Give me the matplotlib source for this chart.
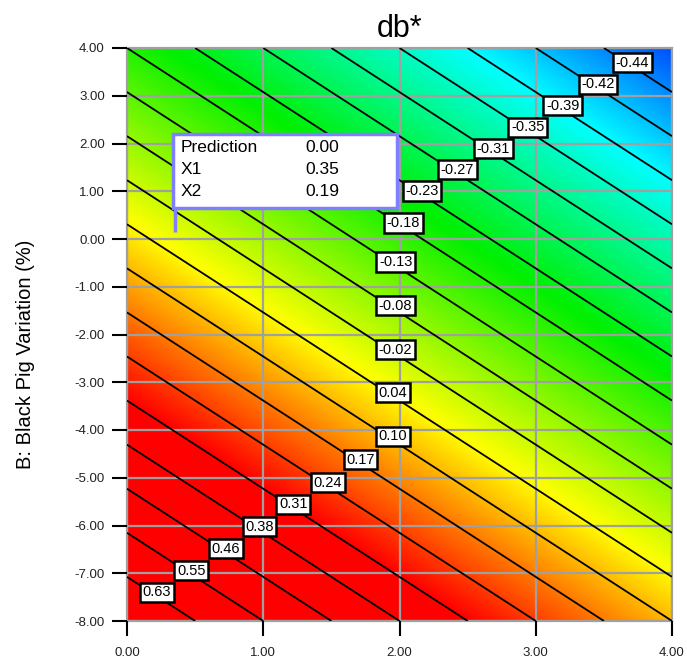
"""db* contour plot (Design-Expert style)"""
import numpy as np
import matplotlib
matplotlib.use("Agg")
import matplotlib.pyplot as plt
from matplotlib.colors import LinearSegmentedColormap
from matplotlib.patches import Rectangle

plt.rcParams['font.family'] = ['Liberation Sans', 'DejaVu Sans']

# 軸の範囲と目盛り
x_range = [0.0, 4.0]
y_range = [-8.0, 4.0]
x_ticks = [0, 1, 2, 3, 4]
y_ticks = [-8, -7, -6, -5, -4, -3, -2, -1, 0, 1, 2, 3, 4]

# 応答曲面（変換後スケールでの一次モデル t = b0 + b1*A + b2*B）
coef_b0 = 4.333
coef_b1 = 1.0
coef_b2 = 0.5417

# 等高線レベル（変換後スケール）と表示ラベル（db*）
contour_levels = [0.5, 1.0, 1.5, 2.0, 2.5, 3.0, 3.5, 4.0, 4.5, 5.0,
                  5.5, 6.0, 6.5, 7.0, 7.5, 8.0, 8.5, 9.0, 9.5, 10.0]
contour_labels = [0.63, 0.55, 0.46, 0.38, 0.31, 0.24, 0.17, 0.10, 0.04, -0.02,
                  -0.08, -0.13, -0.18, -0.23, -0.27, -0.31, -0.35, -0.39, -0.42, -0.44]

# ラベルを置くおおよその位置（データ座標）
label_spots = [(0.24, -7.38), (0.50, -6.90), (0.75, -6.46), (1.00, -5.98),
               (1.25, -5.50), (1.50, -5.06), (1.74, -4.58), (1.98, -4.08),
               (1.98, -3.18), (2.00, -2.26), (2.00, -1.34), (2.00, -0.44),
               (2.04, 0.31), (2.19, 1.03), (2.45, 1.49), (2.72, 1.95),
               (2.97, 2.39), (3.23, 2.85), (3.49, 3.31), (3.74, 3.75)]

# 予測値フラグ
pred_x1 = 0.35
pred_x2 = 0.19
pred_value = 0.00

# カラーマップ（変換後スケールの位置, 色）
cmap_stops = [(0.0, '#ff0000'), (2.5, '#ff0000'), (3.55, '#ff8000'),
              (4.55, '#ffff00'), (6.8, '#00f000'), (9.0, '#00ffff'),
              (10.5, '#0050ff')]


def main():
    """main"""
    fig = plt.figure(figsize=(6.87, 6.64), dpi=100)
    ax = fig.add_axes([127 / 687, 1 - 621 / 664, 545 / 687, 573 / 664])

    xs = np.linspace(x_range[0], x_range[1], 400)
    ys = np.linspace(y_range[0], y_range[1], 600)
    X, Y = np.meshgrid(xs, ys)
    T = coef_b0 + coef_b1 * X + coef_b2 * Y

    t_max = cmap_stops[-1][0]
    cmap = LinearSegmentedColormap.from_list(
        "dx", [(p / t_max, c) for p, c in cmap_stops])
    ax.imshow(T, origin='lower', extent=x_range + y_range, aspect='auto',
              cmap=cmap, vmin=0, vmax=t_max, interpolation='bilinear', zorder=0)

    cs = ax.contour(X, Y, T, levels=contour_levels, colors='black',
                    linewidths=1.3, zorder=3)
    fmt = {lv: f"{lb:.2f}" for lv, lb in zip(contour_levels, contour_labels)}
    texts = ax.clabel(cs, contour_levels, inline=False, fmt=fmt,
                      manual=label_spots, fontsize=10.5)
    for t in texts:
        t.set_rotation(0)
        x, y = t.get_position()
        t.set_position((x, y + 0.08))
        t.set_bbox(dict(boxstyle='square,pad=0.18', facecolor='white',
                        edgecolor='black', linewidth=1.8))
        t.set_zorder(6)

    # 予測値ボックス
    box_left = pred_x1 - 0.01
    box_bottom = pred_x2 + 0.46
    ax.plot([pred_x1, pred_x1], [pred_x2 - 0.05, box_bottom], color='#8080ff',
            lw=2.5, solid_capstyle='butt', zorder=7)
    ax.add_patch(Rectangle((box_left, box_bottom), 1.64, 1.55, facecolor='white',
                           edgecolor='#8080ff', lw=2.5, zorder=7))
    rows = [("Prediction", pred_value), ("X1", pred_x1), ("X2", pred_x2)]
    for i, (name, val) in enumerate(rows):
        yy = box_bottom + 1.26 - i * 0.46
        ax.text(box_left + 0.05, yy, name, fontsize=12.5, va='center', zorder=8)
        ax.text(box_left + 0.97, yy, f"{val:.2f}", fontsize=12.5, va='center',
                zorder=8)

    ax.set_xlim(x_range)
    ax.set_ylim(y_range)
    ax.set_xticks(x_ticks)
    ax.set_yticks(y_ticks)
    ax.set_xticklabels([f"{v:.2f}" for v in x_ticks])
    ax.set_yticklabels([f"{v:.2f}" for v in y_ticks])
    ax.tick_params(direction='out', length=11, width=1.5, labelsize=9.5,
                   color='black', labelcolor='#222222', pad=5)
    ax.tick_params(axis='x', pad=8)
    ax.set_axisbelow(False)
    ax.grid(color='#a0a0a0', lw=1.6)
    for sp in ax.spines.values():
        sp.set_color('#a0a0a0')
        sp.set_linewidth(1.6)

    ax.set_title("db*", fontsize=22, pad=8)
    ax.set_ylabel("B: Black Pig Variation (%)", fontsize=14.5)
    ax.yaxis.set_label_coords(-0.169, 0.465)

    fig.savefig("out.png", dpi=100)
    plt.close('all')


if __name__ == "__main__":
    main()
